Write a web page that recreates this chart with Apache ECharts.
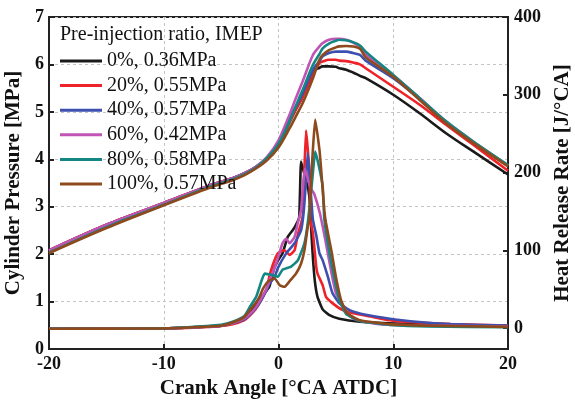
<!DOCTYPE html>
<html>
<head>
<meta charset="utf-8">
<script src="https://cdn.jsdelivr.net/npm/echarts@6/dist/echarts.min.js"></script>
<style>
html,body{margin:0;padding:0;background:#fff;}
#chart{width:575px;height:401px;}
</style>
</head>
<body>
<div id="chart"></div>
<script>
// ---- Data ----
const seriesNames = ['0%, 0.36MPa', '20%, 0.55MPa', '40%, 0.57MPa', '60%, 0.42MPa', '80%, 0.58MPa', '100%, 0.57MPa'];
const xTicks = [-20, -10, 0, 10, 20];
const leftTicks = [0, 1, 2, 3, 4, 5, 6, 7];
const rightTicks = [0, 100, 200, 300, 400];

// Cylinder pressure [MPa] at shared crank angles
const crankP = [-20, -15, -10, -6, -4, -3, -2, -1, 0, 0.96, 1.5, 2.1, 3.0, 3.57, 3.85, 4.4, 5.0, 5.3, 5.9, 6.5, 7.1, 7.6, 10, 12.3, 14.6, 17, 20];
const p0   = [2.08, 2.62, 3.08, 3.45, 3.60, 3.70, 3.83, 4.02, 4.30, 4.78, 5.05, 5.32, 5.85, 5.93, 5.96, 5.96, 5.95, 5.92, 5.89, 5.83, 5.76, 5.71, 5.36, 4.97, 4.55, 4.16, 3.68];
const p20  = [2.08, 2.62, 3.08, 3.45, 3.60, 3.70, 3.83, 4.02, 4.30, 4.78, 5.04, 5.32, 5.78, 6.03, 6.06, 6.10, 6.10, 6.08, 6.07, 6.04, 6.00, 5.92, 5.53, 5.15, 4.73, 4.30, 3.76];
const p40  = [2.07, 2.60, 3.06, 3.44, 3.60, 3.70, 3.83, 4.03, 4.32, 4.85, 5.10, 5.39, 5.89, 6.07, 6.17, 6.24, 6.27, 6.27, 6.27, 6.24, 6.20, 6.08, 5.71, 5.27, 4.78, 4.35, 3.86];
const p60  = [2.08, 2.62, 3.08, 3.45, 3.60, 3.70, 3.84, 4.05, 4.40, 4.94, 5.28, 5.64, 6.20, 6.38, 6.45, 6.52, 6.54, 6.54, 6.52, 6.46, 6.38, 6.22, 5.77, 5.29, 4.80, 4.37, 3.87];
const p80  = [2.03, 2.57, 3.04, 3.42, 3.58, 3.68, 3.82, 4.03, 4.33, 4.80, 5.12, 5.46, 5.99, 6.22, 6.34, 6.44, 6.50, 6.52, 6.51, 6.47, 6.40, 6.27, 5.78, 5.29, 4.80, 4.37, 3.88];
const p100 = [2.02, 2.55, 3.03, 3.40, 3.56, 3.66, 3.80, 3.98, 4.25, 4.65, 4.90, 5.18, 5.71, 6.10, 6.20, 6.30, 6.36, 6.38, 6.39, 6.38, 6.33, 6.15, 5.74, 5.25, 4.76, 4.34, 3.85];

// Heat release rate [J/°CA]
const hX0 = [-20, -10, -6, -5, -4, -3, -2.5, -2, -1.65, -1.2, -0.8, -0.37, 0, 0.35, 0.8, 1.25, 1.5, 1.8, 1.97, 2.3, 2.6, 2.74, 2.87, 3.0, 3.17, 3.4, 3.85, 4.4, 5.3, 7.1, 9.7, 13, 20];
const h0  = [-1, -0.5, 2, 3, 6, 12, 20, 28, 36, 45, 53, 77, 88, 96, 117, 126, 132, 142, 214, 195, 178, 160, 122, 90, 60, 40, 24, 17, 12, 8, 6, 4, 2];
const hX20 = [-20, -10, -6, -5, -4, -3, -2.5, -2, -1.5, -1, -0.8, -0.5, -0.06, 0.52, 0.96, 1.4, 1.68, 2.1, 2.25, 2.4, 2.55, 2.7, 2.78, 3.0, 3.28, 3.4, 3.85, 4.14, 4.7, 5.6, 6.5, 8.3, 9.7, 12, 15, 20];
const h20  = [-1, -0.5, 1.5, 2.5, 5, 10, 16, 24, 36, 52, 66, 81, 96, 100, 94, 100, 120, 143, 200, 254, 230, 195, 139, 122, 80, 70, 55, 40, 32, 23, 19, 14, 10, 7, 5, 3];
const hX40 = [-20, -10, -6, -5, -4, -3, -2.5, -2, -1.5, -1, -0.8, -0.35, -0.06, 0.67, 1.4, 1.97, 2.2, 2.4, 2.55, 2.7, 2.84, 3.0, 3.28, 3.57, 3.85, 4.3, 4.7, 5.3, 6.2, 7.6, 9.7, 12, 15, 20];
const h40  = [-1, -0.5, 2, 3, 6, 11, 17, 25, 36, 50, 57, 65, 77, 96, 109, 126, 150, 190, 225, 200, 169, 139, 120, 96, 87, 66, 45, 32, 23, 17, 12, 8, 5, 3];
const hX60 = [-20, -10, -6, -5, -4, -3, -2.5, -2, -1.5, -1, -0.8, -0.2, 0.35, 0.67, 0.96, 1.4, 1.68, 1.97, 2.1, 2.3, 2.5, 2.8, 3.1, 3.6, 4.1, 4.6, 5.0, 5.6, 6.5, 8.3, 10, 13, 20];
const h60  = [-1, -0.5, 2, 3, 6, 12, 18, 26, 38, 52, 60, 83, 109, 115, 109, 117, 135, 152, 178, 205, 195, 180, 173, 148, 112, 72, 45, 28, 12, 6, 4, 3, 2];
const hX80 = [-20, -10, -6, -5, -4, -3, -2.5, -1.95, -1.65, -1.5, -1.2, -0.5, -0.06, 0.35, 1.1, 1.68, 2.26, 2.55, 2.84, 3.0, 3.2, 3.57, 3.85, 4.0, 4.4, 4.9, 5.3, 5.9, 7.1, 8, 9.7, 13, 20];
const h80  = [-1, -0.5, 3, 4, 8, 15, 27, 40, 53, 60, 70, 68, 66, 75, 79, 87, 109, 135, 175, 200, 227, 205, 182, 139, 100, 62, 36, 18, 9, 7, 4, 2, 1];
const hX100 = [-20, -10, -6, -5, -4, -3, -2.5, -2, -1.65, -1.37, -0.9, -0.35, 0.1, 0.52, 0.96, 1.53, 1.97, 2.26, 2.55, 2.7, 2.84, 3.0, 3.2, 3.57, 3.7, 4.0, 4.14, 4.6, 5.0, 5.45, 6.0, 7.1, 9.7, 13, 20];
const h100  = [-1, -0.5, 2, 3, 7, 14, 23, 32, 40, 50, 60, 64, 55, 53, 60, 70, 83, 100, 130, 139, 190, 230, 268, 229, 207, 150, 135, 100, 66, 36, 19, 10, 5, 3, 1.5];

const colors = ['#1a1a1a', '#ee2229', '#3d50b0', '#c155b5', '#138783', '#8e4a1c'];

// ---- Build ----
const zip = (xs, ys) => xs.map((x, i) => [x, ys[i]]);
const pData = [p0, p20, p40, p60, p80, p100];
const hXs = [hX0, hX20, hX40, hX60, hX80, hX100];
const hYs = [h0, h20, h40, h60, h80, h100];

const FONT = "'Liberation Serif', 'Times New Roman', serif";
const series = [];
seriesNames.forEach((n, i) => {
  series.push({
    name: n, type: 'line', xAxisIndex: 0, yAxisIndex: 0,
    data: zip(crankP, pData[i]), showSymbol: false, smooth: 0.3,
    lineStyle: { width: 2.6, color: colors[i] }, itemStyle: { color: colors[i] }, z: 2
  });
});
seriesNames.forEach((n, i) => {
  series.push({
    name: n, type: 'line', xAxisIndex: 0, yAxisIndex: 1,
    data: zip(hXs[i], hYs[i]), showSymbol: false, smooth: 0.15,
    lineStyle: { width: 2.6, color: colors[i] }, itemStyle: { color: colors[i] }, z: 2
  });
});

const axisLabelStyle = { color: '#111', fontFamily: FONT, fontWeight: 'bold', fontSize: 18 };
const nameStyle = { color: '#111', fontFamily: FONT, fontWeight: 'bold', fontSize: 21 };
const splitStyle = { show: true, lineStyle: { color: '#c4c4c4', type: [3, 3], width: 1 } };

const option = {
  animation: false,
  backgroundColor: '#fff',
  color: colors,
  title: {
    text: 'Pre-injection ratio, IMEP', left: 55, top: 20,
    textStyle: { fontFamily: FONT, fontWeight: 'normal', fontSize: 20, color: '#111' }
  },
  legend: {
    orient: 'vertical', left: 55, top: 46,
    icon: 'rect', itemWidth: 42, itemHeight: 3, itemGap: 4.6,
    data: seriesNames,
    textStyle: { fontFamily: FONT, fontSize: 20, color: '#111', lineHeight: 20 }
  },
  grid: { left: 49, right: 67, top: 17, bottom: 52, show: true, borderColor: '#222', borderWidth: 2, backgroundColor: 'transparent', containLabel: false, outerBoundsMode: 'none' },
  xAxis: {
    type: 'value', min: -20, max: 20, interval: 10,
    name: 'Crank Angle [°CA ATDC]', nameLocation: 'middle', nameGap: 27, nameTextStyle: nameStyle,
    axisLine: { show: true, onZero: false, lineStyle: { color: '#222', width: 2 } },
    axisTick: { inside: true, length: 5, lineStyle: { color: '#222', width: 2 } },
    axisLabel: Object.assign({ margin: 6 }, axisLabelStyle),
    splitLine: splitStyle
  },
  yAxis: [{
    type: 'value', min: 0, max: 7, interval: 1, position: 'left',
    name: 'Cylinder Pressure [MPa]', nameLocation: 'middle', nameGap: 23, nameTextStyle: nameStyle,
    axisLine: { show: true, onZero: false, lineStyle: { color: '#222', width: 2 } },
    axisTick: { inside: true, length: 5, lineStyle: { color: '#222', width: 2 } },
    axisLabel: Object.assign({ margin: 5 }, axisLabelStyle),
    splitLine: splitStyle
  }, {
    type: 'value', min: -27, max: 400, position: 'right',
    name: 'Heat Release Rate [J/°CA]', nameLocation: 'middle', nameGap: 44, nameTextStyle: nameStyle,
    axisLine: { show: true, onZero: false, lineStyle: { color: '#222', width: 2 } },
    axisTick: { inside: true, length: 5, customValues: rightTicks, lineStyle: { color: '#222', width: 2 } },
    axisLabel: Object.assign({ margin: 6, customValues: rightTicks }, axisLabelStyle),
    splitLine: { show: false }
  }],
  series: series
};

const chart = echarts.init(document.getElementById('chart'), null, { renderer: 'canvas' });
chart.setOption(option);
</script>
</body>
</html>
